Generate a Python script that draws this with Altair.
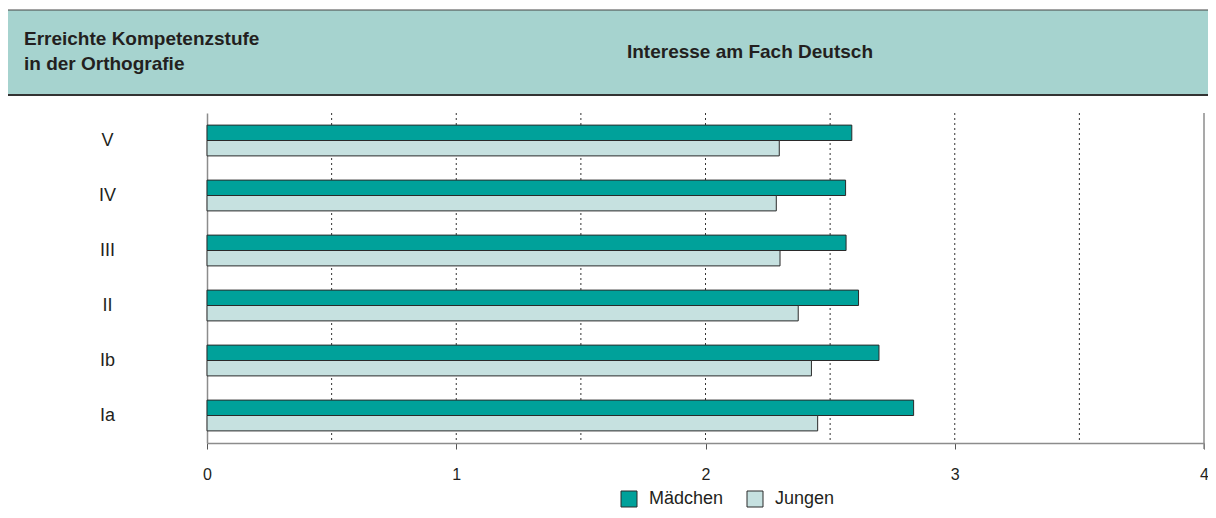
import altair as alt
import pandas as pd

# ---- data ----
stufen = ["V", "IV", "III", "II", "Ib", "Ia"]
maedchen = [2.587, 2.562, 2.564, 2.614, 2.696, 2.835]
jungen = [2.296, 2.284, 2.299, 2.372, 2.425, 2.450]
gruppen = ["Mädchen", "Jungen"]
grid_werte = [0.5, 1, 1.5, 2, 2.5, 3, 3.5]
tick_werte = [0, 1, 2, 3, 4]
titel_links = ["Erreichte Kompetenzstufe", "in der Orthografie"]
titel_mitte = "Interesse am Fach Deutsch"

rows = []
for s, m, j in zip(stufen, maedchen, jungen):
    rows.append({"Stufe": s, "Gruppe": gruppen[0], "Wert": m})
    rows.append({"Stufe": s, "Gruppe": gruppen[1], "Wert": j})
df = pd.DataFrame(rows)
grid_df = pd.DataFrame({"Wert": grid_werte})
one = pd.DataFrame({"a": [0]})

FONT = "Liberation Sans"
TEXT = "#231f20"
W, H = 997, 330

xscale = alt.Scale(domain=[0, 4], nice=False, zero=True)
xaxis = alt.Axis(values=tick_werte, format="d", grid=False, title=None,
                 domainColor="#8c8c8c", domainWidth=1.5,
                 tickColor="#555555", tickSize=6, tickWidth=1,
                 labelFontSize=16, labelFont=FONT, labelColor=TEXT,
                 labelPadding=17, labelFlush=False)

header_bg = alt.Chart(one).mark_rect(fill="#a6d3cf").encode(
    x=alt.value(-200), x2=alt.value(1001), y=alt.value(-103), y2=alt.value(-18))
header_top = alt.Chart(one).mark_rule(color="#444444", strokeWidth=1).encode(
    x=alt.value(-200), x2=alt.value(1001), y=alt.value(-103))
header_bot = alt.Chart(one).mark_rule(color="#333333", strokeWidth=2).encode(
    x=alt.value(-200), x2=alt.value(1001), y=alt.value(-18))
t1 = alt.Chart(one).mark_text(align="left", baseline="alphabetic", font=FONT,
                              fontWeight="bold", fontSize=19, color=TEXT).encode(
    x=alt.value(-183), y=alt.value(-68), text=alt.value(titel_links[0]))
t2 = alt.Chart(one).mark_text(align="left", baseline="alphabetic", font=FONT,
                              fontWeight="bold", fontSize=19, color=TEXT).encode(
    x=alt.value(-183), y=alt.value(-43), text=alt.value(titel_links[1]))
t3 = alt.Chart(one).mark_text(align="center", baseline="alphabetic", font=FONT,
                              fontWeight="bold", fontSize=19, color=TEXT).encode(
    x=alt.value(543), y=alt.value(-55), text=alt.value(titel_mitte))

grid = alt.Chart(grid_df).mark_rule(color="#333333", strokeWidth=1, strokeDash=[2, 3]).encode(
    x=alt.X("Wert:Q", scale=xscale, axis=xaxis), y=alt.value(0), y2=alt.value(H))
right = alt.Chart(one).mark_rule(color="#8c8c8c", strokeWidth=1.5).encode(
    x=alt.datum(4), y=alt.value(0), y2=alt.value(H + 6))

bars = alt.Chart(df).mark_bar(stroke="#2a2a2a", strokeWidth=1).encode(
    y=alt.Y("Stufe:N", sort=stufen,
            scale=alt.Scale(paddingInner=0.44, paddingOuter=0.22),
            axis=alt.Axis(title=None, labelAlign="center", labelBaseline="middle",
                          labelPadding=100, ticks=False, tickSize=0,
                          domainColor="#8c8c8c", domainWidth=1.5,
                          labelFontSize=18, labelFont=FONT, labelColor=TEXT)),
    yOffset=alt.YOffset("Gruppe:N", sort=gruppen,
                        scale=alt.Scale(paddingInner=0, paddingOuter=0)),
    x=alt.X("Wert:Q", scale=xscale, axis=xaxis),
    color=alt.Color("Gruppe:N", sort=gruppen,
                    scale=alt.Scale(domain=gruppen, range=["#00a19a", "#c6e1e0"]),
                    legend=alt.Legend(title=None, orient="none", legendX=413, legendY=377,
                                      direction="horizontal", symbolType="square",
                                      symbolSize=256, symbolStrokeColor="#2a2a2a",
                                      symbolStrokeWidth=1, symbolOpacity=1,
                                      labelFontSize=18, labelFont=FONT, labelColor=TEXT,
                                      labelOffset=11, columnPadding=21, padding=0)),
)

chart = alt.layer(header_bg, header_top, header_bot, t1, t2, t3, grid, right, bars).properties(
    width=W, height=H,
    padding={"left": 199, "top": 105, "right": 4, "bottom": 67},
    autosize=alt.AutoSizeParams(type="none"),
    background="white",
).configure_view(stroke=None)

chart.save("out.html", embed_options={"renderer": "svg", "actions": False})
